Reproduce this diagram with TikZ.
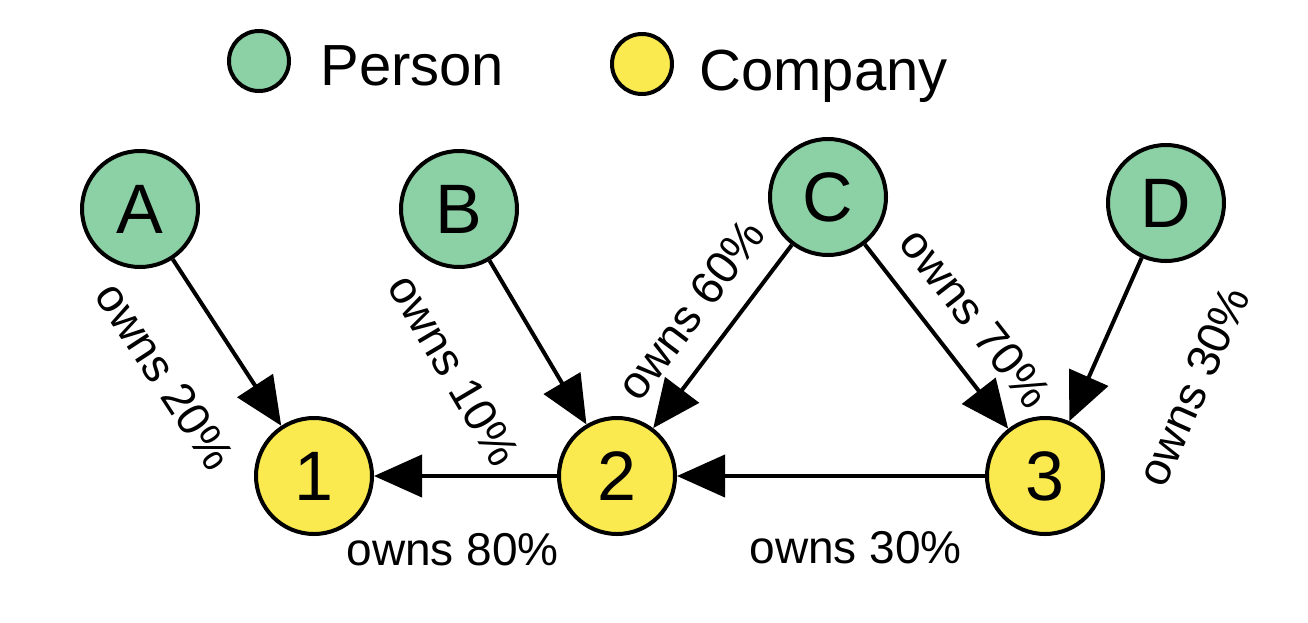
\documentclass[tikz,border=0pt]{standalone}
\usepackage{fontspec}
\setsansfont{Liberation Sans}
\usetikzlibrary{arrows.meta}
\usetikzlibrary{positioning}
\definecolor{lightgreen}{HTML}{8CD0A5}
\definecolor{yellow}{HTML}{FAE94F}
\tikzset{
  entity/.style={
    draw,
    circle,
    line width=2pt,
    minimum size=58pt,
    inner sep=0pt,
    node font=\sffamily\fontsize{35}{42}\selectfont,
  },
  person/.style={
    entity,
    fill=lightgreen,
  },
  company/.style={
    entity,
    fill=yellow,
  },
  key/.style={
    draw,
    circle,
    line width=2pt,
    minimum size=30pt,
    inner sep=0pt,
  },
  legend/.style={
    node font=\sffamily\fontsize{29}{35}\selectfont,
    anchor=base west,
    inner sep=0,
  },
  owns/.style={
    draw,
    ->,
    >={Triangle[length=24pt,width=21pt]},
    line width=2pt,
  },
  share/.style={
    node font=\sffamily\fontsize{23}{28}\selectfont,
    inner xsep=0pt,
  },
}

\begin{document}
\begin{tikzpicture}[x=0.5pt,y=-0.5pt]
  \useasboundingbox (0,0) rectangle (1308,622);

  % legend
  \node (person key)     [key,fill=lightgreen] at (259,61) {};
  \node (person label)   [legend]              at (320,85) {Person};
  \node (company key)    [key,fill=yellow]     at (642,64) {};
  \node (company label)  [legend]              at (699,90) {Company};

  % owners
  \node (a) [person] at (140,209)  {A};
  \node (b) [person] at (459,209)  {B};
  \node (c) [person] at (828,197)  {C};
  \node (d) [person] at (1166,203) {D};

  % companies
  \node (one)   [company] at (314,476)  {1};
  \node (two)   [company] at (617,476)  {2};
  \node (three) [company] at (1045,476) {3};

  \path [owns] (a) -- node [share,sloped,below,inner ysep=26pt,pos=0.47] {owns 20\%} (one);
  \path [owns] (b) -- node [share,sloped,below,inner ysep=34pt,pos=0.40] {owns 10\%} (two);
  \path [owns] (c) -- node [share,sloped,above,inner ysep=11.5pt,pos=0.49] {owns 60\%} (two);
  \path [owns] (c) -- node [share,sloped,above,inner ysep=12pt,pos=0.54] {owns 70\%} (three);
  \path [owns] (d) -- node [share,sloped,below,inner ysep=40.5pt,pos=0.54] {owns 30\%} (three);
  \path [owns] (two) -- node [share,below,inner ysep=27.5pt,pos=0.57] {owns 80\%} (one);
  \path [owns] (three) -- node [share,below,inner ysep=26.5pt,pos=0.42] {owns 30\%} (two);
\end{tikzpicture}
\end{document}
